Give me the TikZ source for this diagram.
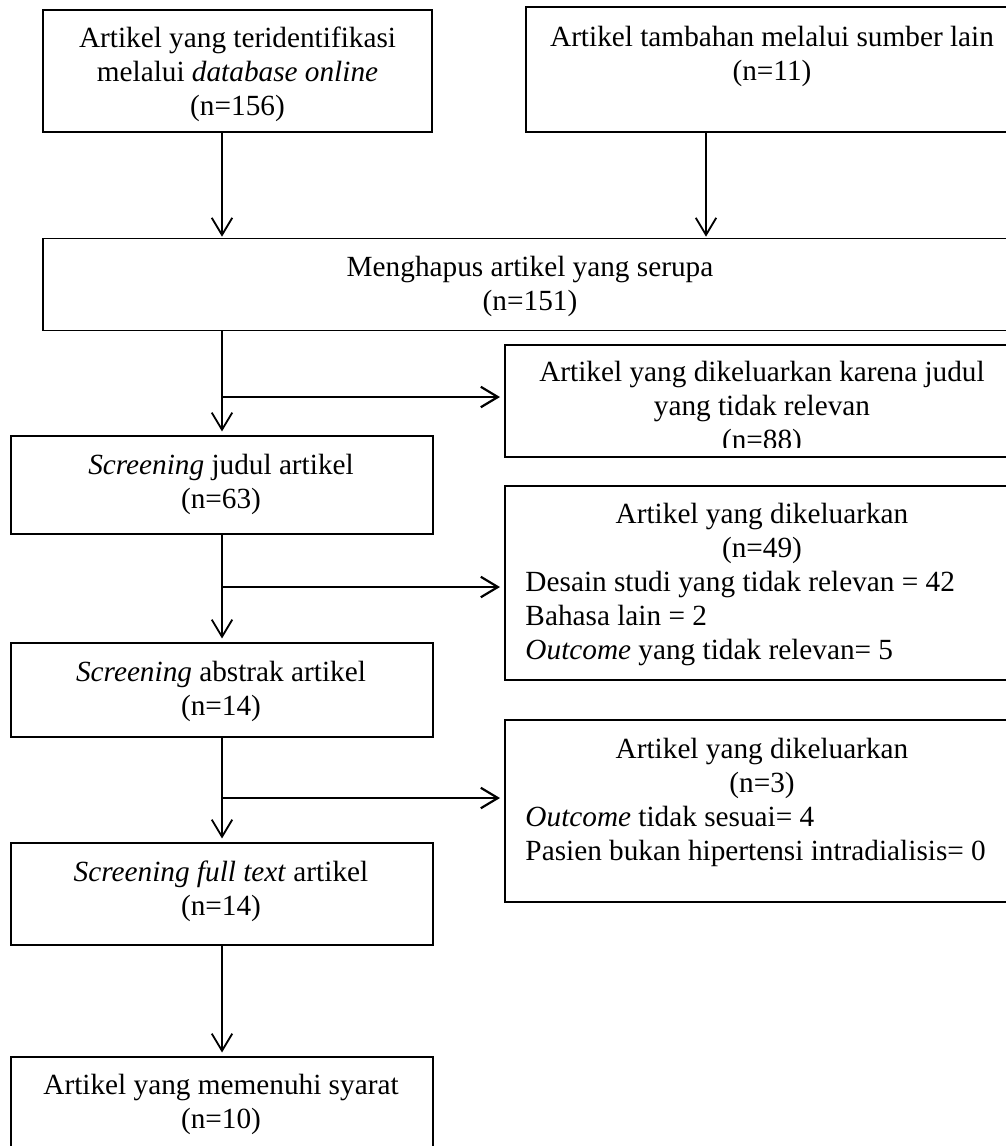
\documentclass[tikz,border=0pt]{standalone}
\usepackage{fontspec}
\setmainfont{Liberation Serif}
\usetikzlibrary{arrows.meta}

\begin{document}
\begin{tikzpicture}
[x=0.41pt,y=-0.41pt,%
  boxDecorate/.style={shape=rectangle,draw,line width=0.5pt,inner sep=0pt},%
  textDecorate/.style={align=center,inner sep=0pt,anchor=base,font=\fontsize{12}{13.9}\selectfont},%
  listDecorate/.style={align=left,inner sep=0pt,anchor=base west,font=\fontsize{12}{13.9}\selectfont},%
  arrowDecorate/.style={-{Straight Barb[length=7pt,width=8.4pt]},line width=0.75pt},%
  branchDecorate/.style={arrowDecorate,line width=0.9pt,shorten >=1.8pt}]
\clip (0,0) rectangle (1006,1146);
\fill[white] (0,0) rectangle (1006,1146);
%% boxes
\foreach \boxname/\x/\y/\w/\h in {dbBox/237.5/71/389/122, srcBox/772/69.5/492/125,
  dupBox/530/284.5/974/92, titleExcl/762/401/514/112, titleBox/222/485/422/98,
  abstExcl/762/583/514/194, abstBox/222/690/422/94, fullExcl/762/811/514/182,
  fullBox/222/894/422/102, finalBox/222/1113.5/422/113}
{
  \node (\boxname) at (\x,\y) [boxDecorate,minimum width=\w*0.41pt,minimum height=\h*0.41pt] {};
}
%% texts (placed at the baseline of their last line)
\node (dbText) at (237.5,115) [textDecorate] {Artikel yang teridentifikasi\\melalui \textit{database online}\\(n=156)};
\node (srcText) at (772,80) [textDecorate] {Artikel tambahan melalui sumber lain\\(n=11)};
\node (dupText) at (530,310) [textDecorate] {Menghapus artikel yang serupa\\(n=151)};
\begin{scope}
  \clip (505,340) rectangle (1019,447.5);
  \node (titleExclText) at (762,449) [textDecorate] {Artikel yang dikeluarkan karena judul\\yang tidak relevan\\(n=88)};
\end{scope}
\node (titleText) at (221,508) [textDecorate] {\textit{Screening} judul artikel\\(n=63)};
\node (abstExclHead) at (762,557) [textDecorate] {Artikel yang dikeluarkan\\(n=49)};
\node (abstExclList) at (525,659) [listDecorate] {Desain studi yang tidak relevan = 42\\Bahasa lain = 2\\\textit{Outcome} yang tidak relevan= 5};
\node (abstText) at (221,715) [textDecorate] {\textit{Screening} abstrak artikel\\(n=14)};
\node (fullExclHead) at (762,792) [textDecorate] {Artikel yang dikeluarkan\\(n=3)};
\node (fullExclList) at (525,860) [listDecorate] {\textit{Outcome} tidak sesuai= 4\\Pasien bukan hipertensi intradialisis= 0};
\node (fullText) at (221,915) [textDecorate] {\textit{Screening full text} artikel\\(n=14)};
\node (finalText) at (221,1128) [textDecorate] {Artikel yang memenuhi syarat\\(n=10)};
%% split points
\coordinate (srcDrop) at (706,132);
\coordinate (titleSplit) at (222,397);
\coordinate (abstSplit) at (222,587);
\coordinate (fullSplit) at (222,798);
%% arrows
\draw[arrowDecorate,shorten >=0.5pt] (dbBox.south -| titleBox.north) -- (dupBox.north -| titleBox.north);
\draw[arrowDecorate,shorten >=0.5pt] (srcDrop) -- (srcDrop |- dupBox.north);
\draw[arrowDecorate,shorten >=1.6pt] (dupBox.south -| titleBox.north) -- (titleBox.north);
\path
\foreach \startnode/\endnode in {titleBox/abstBox, abstBox/fullBox, fullBox/finalBox}
{
  (\startnode) edge[arrowDecorate,shorten >=1.6pt] (\endnode)
};
\foreach \splitname/\boxname in {titleSplit/titleExcl, abstSplit/abstExcl, fullSplit/fullExcl}
{
  \draw[branchDecorate] (\splitname) -- (\splitname -| \boxname.west);
}
\end{tikzpicture}
\end{document}
